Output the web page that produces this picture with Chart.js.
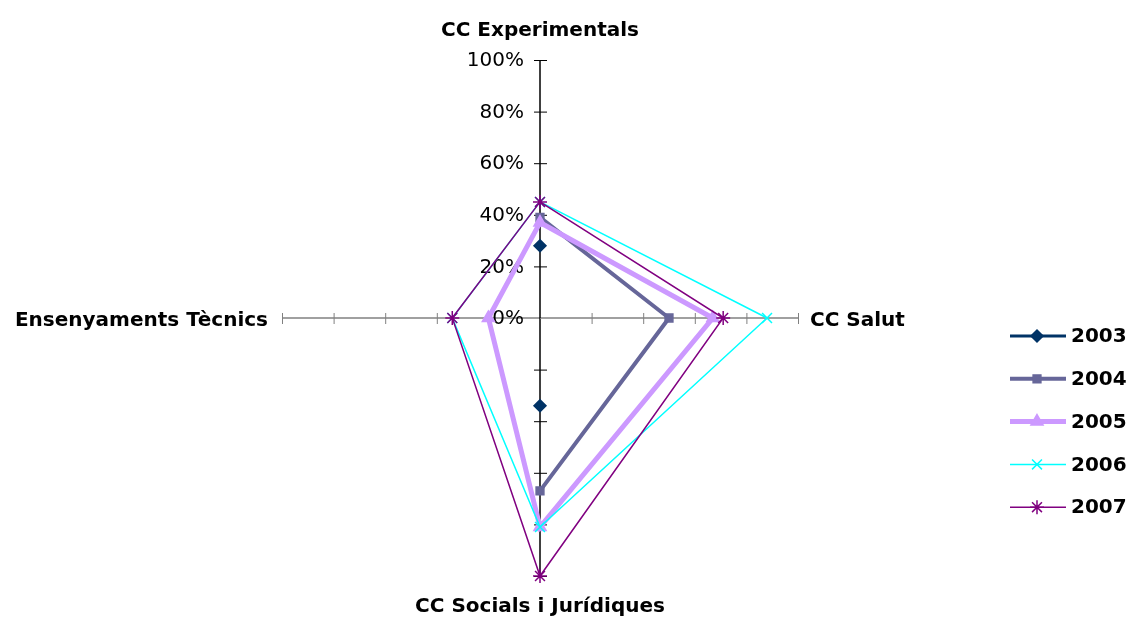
<!DOCTYPE html>
<html>
<head>
<meta charset="utf-8">
<script src="https://cdn.jsdelivr.net/npm/chart.js@4/dist/chart.umd.min.js"></script>
<style>
  body { margin: 0; background: #fff; }
  #wrap { width: 1127px; height: 622px; }
</style>
</head>
<body>
<div id="wrap"><canvas id="radarChart" width="1127" height="622"></canvas></div>
<script>
// Àrees (ordre horari, començant a dalt)
const arees = ["CC Experimentals", "CC Salut", "CC Socials i Jurídiques", "Ensenyaments Tècnics"];
const tickLabels = ["0%", "20%", "40%", "60%", "80%", "100%"];
const tickValues = [0, 20, 40, 60, 80, 100];

// Valors (%) per any
const any2003 = [28, null, 34, null];
const any2004 = [39, 50, 67, null];
const any2005 = [37, 67, 81, 20];
const any2006 = [45, 88, 81, 34];
const any2007 = [45, 71, 100, 34];

const series = [
  { label: "2003", data: any2003, color: "#003366", width: 3, style: "rectRot", radius: 6 },
  { label: "2004", data: any2004, color: "#666699", width: 4, style: "rect", radius: 5.5 },
  { label: "2005", data: any2005, color: "#CC99FF", width: 5, style: "triangle", radius: 7 },
  { label: "2006", data: any2006, color: "#00FFFF", width: 1.5, style: "crossRot", radius: 7 },
  { label: "2007", data: any2007, color: "#800080", width: 1.5, style: "star", radius: 7 }
];

const FONT = "'DejaVu Sans', sans-serif";

// Etiquetes, marques dels eixos i llegenda
const decorPlugin = {
  id: "decor",
  beforeDatasetsDraw(chart) {
    const ctx = chart.ctx;
    const r = chart.scales.r;
    ctx.save();
    // marques cada 20%
    for (let i = 0; i < arees.length; i++) {
      ctx.strokeStyle = i % 2 === 0 ? "#000" : "#808080";
      ctx.lineWidth = 1;
      for (let v = 20; v <= 100; v += 20) {
        const p = r.getPointPositionForValue(i, v);
        ctx.beginPath();
        if (i % 2 === 0) {
          ctx.moveTo(p.x - 6, p.y + 0.5);
          ctx.lineTo(p.x + 7, p.y + 0.5);
        } else {
          ctx.moveTo(p.x + 0.5, p.y - 5);
          ctx.lineTo(p.x + 0.5, p.y + 6);
        }
        ctx.stroke();
      }
    }
    // etiquetes de l'eix vertical
    ctx.fillStyle = "#000";
    ctx.font = "20px " + FONT;
    ctx.textAlign = "right";
    ctx.textBaseline = "middle";
    tickValues.forEach((v, k) => {
      const p = r.getPointPositionForValue(0, v);
      ctx.fillText(tickLabels[k], p.x - 16, p.y + 1);
    });
    // noms de les àrees
    ctx.font = "bold 20px " + FONT;
    const top = r.getPointPositionForValue(0, 100);
    const right = r.getPointPositionForValue(1, 100);
    const bottom = r.getPointPositionForValue(2, 100);
    const left = r.getPointPositionForValue(3, 100);
    ctx.textAlign = "center";
    ctx.fillText(arees[0], top.x, top.y - 29);
    ctx.fillText(arees[2], bottom.x, bottom.y + 31);
    ctx.textAlign = "left";
    ctx.fillText(arees[1], right.x + 12, right.y + 3);
    ctx.textAlign = "right";
    ctx.fillText(arees[3], left.x - 14, left.y + 3);
    ctx.restore();
  },
  afterDraw(chart) {
    const ctx = chart.ctx;
    ctx.save();
    chart.data.datasets.forEach((ds, i) => {
      const y = 336 + i * 42.8;
      ctx.strokeStyle = ds.borderColor;
      ctx.fillStyle = ds.borderColor;
      ctx.lineWidth = ds.borderWidth;
      ctx.beginPath();
      ctx.moveTo(1010, y);
      ctx.lineTo(1066, y);
      ctx.stroke();
      ctx.lineWidth = 1.5;
      Chart.helpers.drawPoint(ctx, {
        pointStyle: ds.pointStyle,
        radius: ds.pointRadius,
        rotation: 0,
        borderWidth: 1.5
      }, 1037, y);
      ctx.fillStyle = "#000";
      ctx.font = "bold 20px " + FONT;
      ctx.textAlign = "left";
      ctx.textBaseline = "middle";
      ctx.fillText(ds.label, 1071, y + 1);
    });
    ctx.restore();
  }
};

const ctx = document.getElementById("radarChart").getContext("2d");
new Chart(ctx, {
  type: "radar",
  data: {
    labels: arees,
    datasets: series.map((s, i) => ({
      label: s.label,
      data: s.data,
      borderColor: s.color,
      backgroundColor: s.color,
      borderWidth: s.width,
      pointStyle: s.style,
      pointRadius: s.radius,
      pointBorderColor: s.color,
      pointBackgroundColor: s.color,
      pointBorderWidth: 1.5,
      fill: false,
      tension: 0,
      spanGaps: false,
      order: series.length - i
    }))
  },
  options: {
    responsive: false,
    animation: false,
    layout: { padding: { left: 282, right: 329, top: 60, bottom: 46 } },
    plugins: {
      legend: { display: false },
      tooltip: { enabled: false }
    },
    scales: {
      r: {
        min: 0,
        max: 100,
        ticks: { display: false, stepSize: 20 },
        grid: { display: false },
        pointLabels: { display: false },
        angleLines: {
          display: true,
          lineWidth: 1.5,
          color: (c) => (c.index % 2 === 0 ? "#000" : "#808080")
        }
      }
    }
  },
  plugins: [decorPlugin]
});
</script>
</body>
</html>
